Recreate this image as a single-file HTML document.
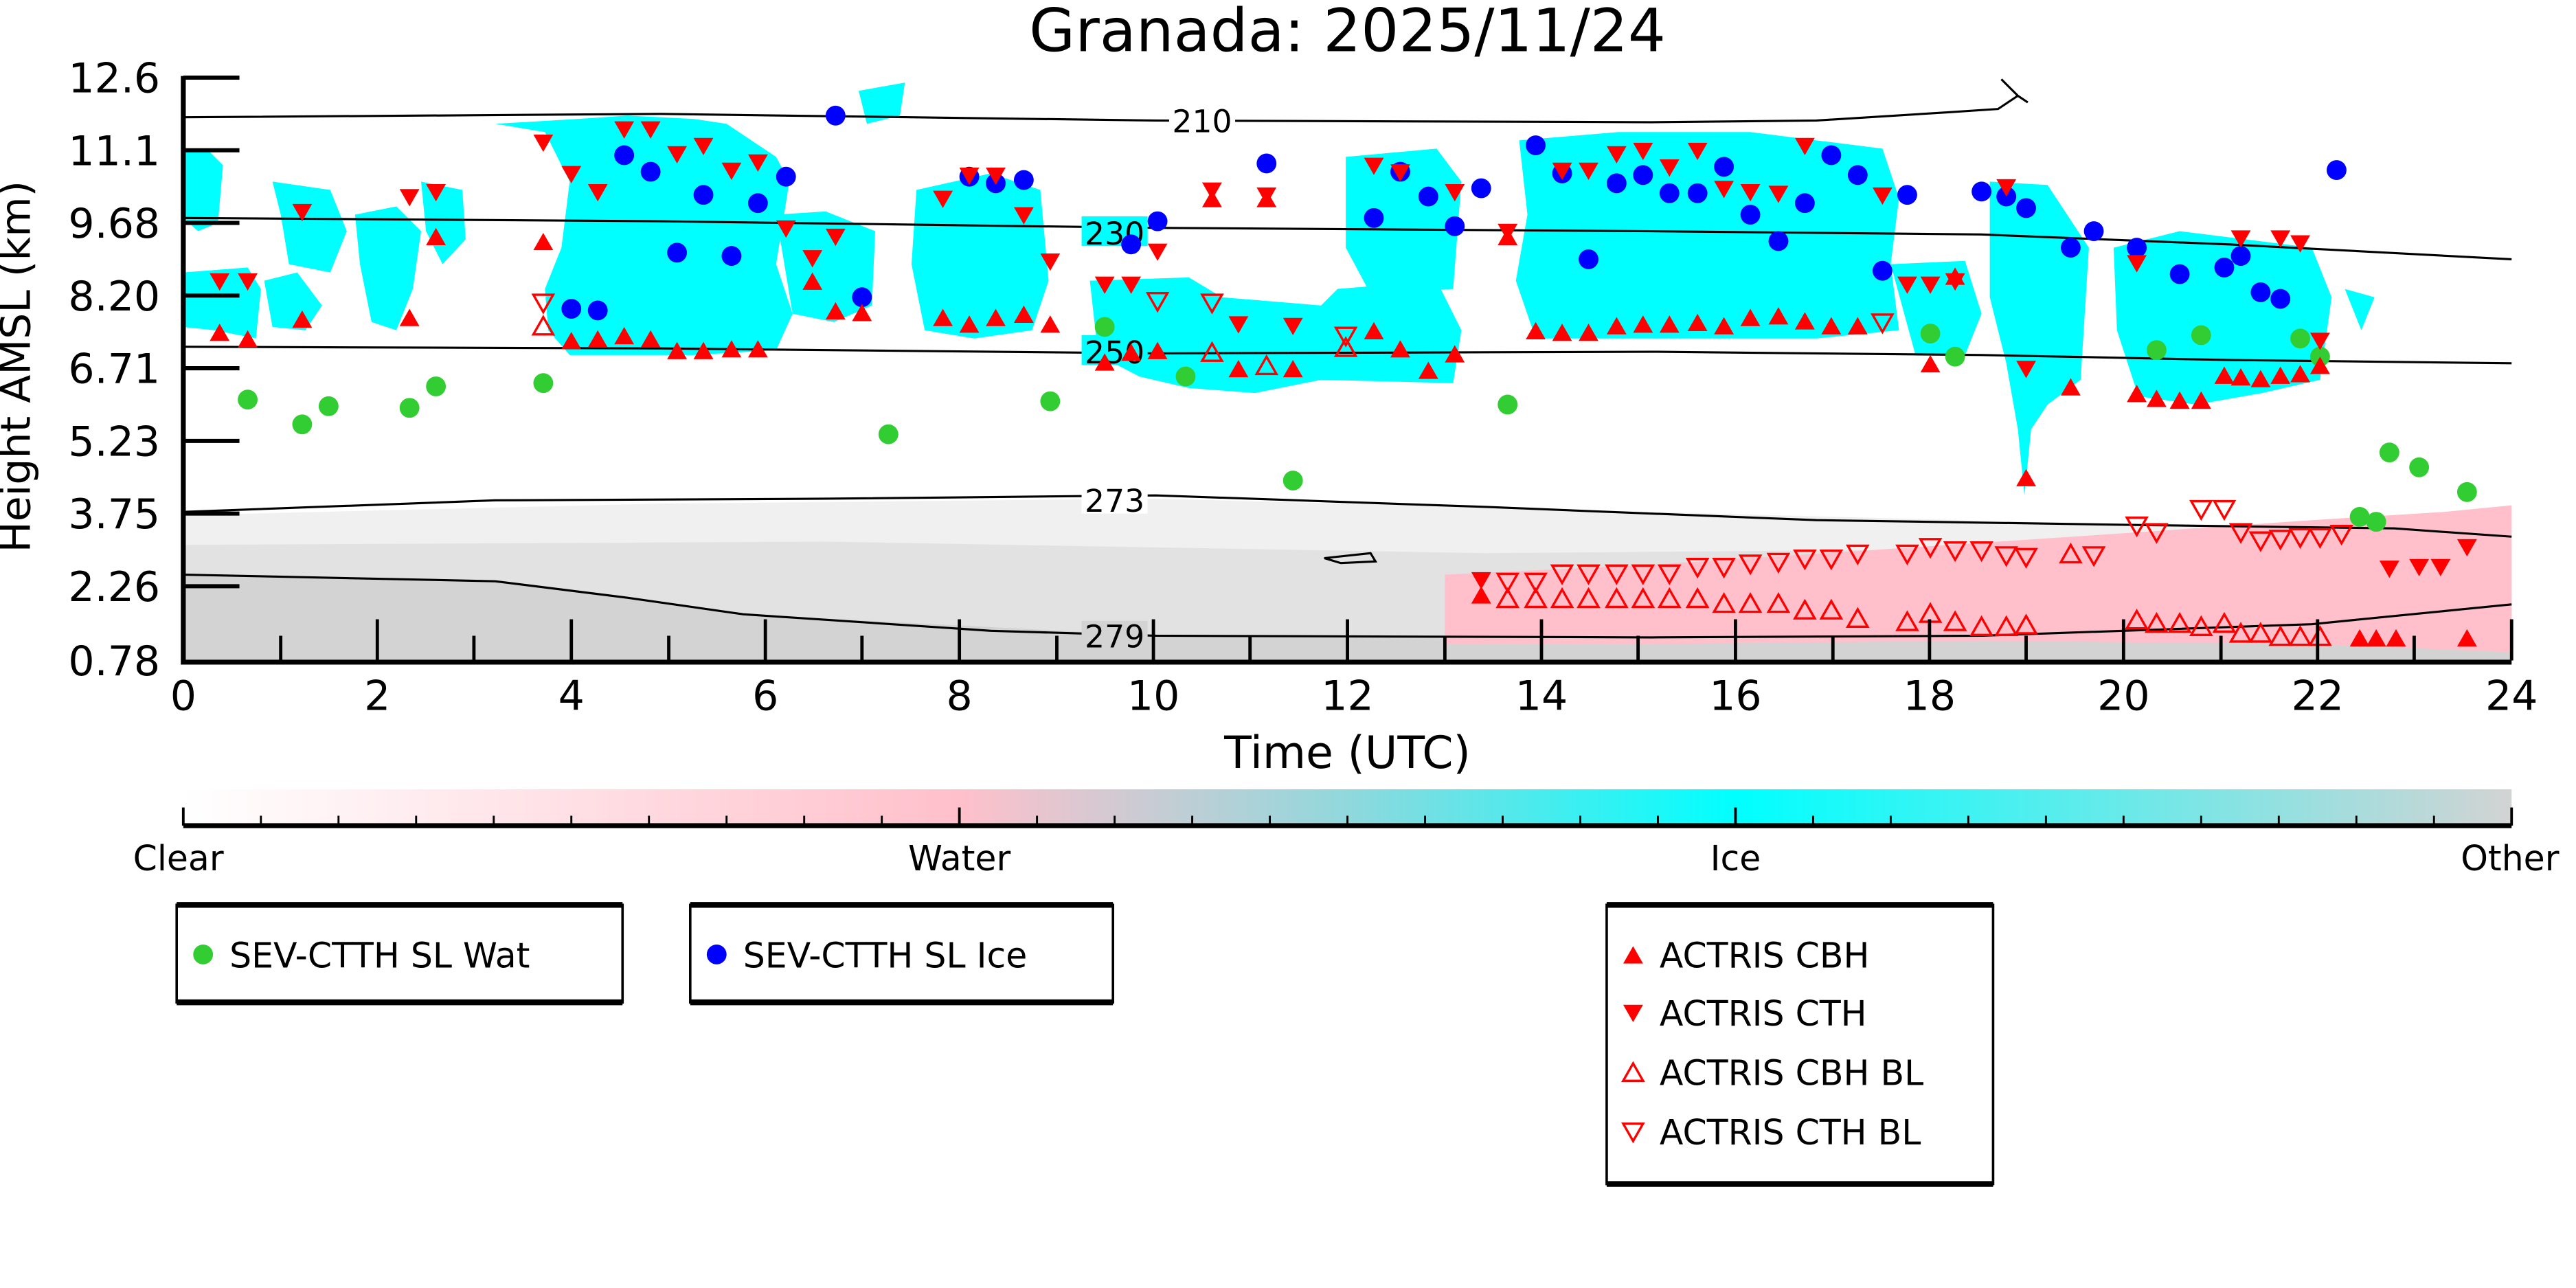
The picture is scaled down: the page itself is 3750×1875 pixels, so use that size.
<!DOCTYPE html>
<html><head><meta charset="utf-8"><style>
html,body{margin:0;padding:0;background:#fff;}
svg{display:block;}
text{font-family:"DejaVu Sans","Liberation Sans",sans-serif;}
</style></head><body>
<svg width="3750" height="1875" viewBox="0 0 1560 780" preserveAspectRatio="none" xmlns="http://www.w3.org/2000/svg">
<defs>
<linearGradient id="cb" x1="0" x2="1" y1="0" y2="0">
<stop offset="0" stop-color="#ffffff"/>
<stop offset="0.333" stop-color="#ffc0cb"/>
<stop offset="0.5" stop-color="#90d8dc"/>
<stop offset="0.667" stop-color="#00ffff"/>
<stop offset="1" stop-color="#d3d3d3"/>
</linearGradient>
<path id="up" d="M0,-6 L6,4.5 L-6,4.5 Z"/>
<path id="dn" d="M0,6 L6,-4.5 L-6,-4.5 Z"/>
</defs>
<text x="816" y="31" font-size="36" text-anchor="middle">Granada: 2025/11/24</text>

<path d="M111,312 L400,305 L700,302 L1000,310 L1300,318 L1521,322 L1521,400 L111,400 Z" fill="#f0f0f0"/>
<path d="M111,330 L500,328 L900,335 L1521,330 L1521,400 L111,400 Z" fill="#e2e2e2"/>
<path d="M111,348 L300,352 L450,372 L700,385 L1200,385 L1400,378 L1521,366 L1521,400 L111,400 Z" fill="#d3d3d3"/>
<path d="M111,348 L300,352 L450,372 L700,385 L111,385 Z" fill="#d3d3d3"/>
<path d="M875,348 L1000,342 L1150,332 L1300,322 L1400,315 L1480,310 L1521,306 L1521,395 L1400,390 L1200,388 L1000,390 L875,390 Z" fill="#ffc0cb"/>

<g fill="#00ffff">
<path d="M111,92 L125,90 L135,100 L132,135 L120,140 L111,132 Z"/>
<path d="M111,165 L150,162 L158,175 L155,205 L130,200 L111,198 Z"/>
<path d="M160,170 L180,165 L195,185 L185,200 L165,198 Z"/>
<path d="M165,110 L200,115 L210,140 L200,165 L175,160 L170,130 Z"/>
<path d="M215,130 L240,125 L255,140 L250,175 L240,200 L225,195 L218,160 Z"/>
<path d="M255,110 L280,115 L282,145 L268,160 L258,140 Z"/>
<path d="M300,75 L330,80 L345,110 L340,150 L330,175 L332,200 L345,215 L420,215 L470,212 L480,190 L470,160 L478,110 L470,95 L440,75 L420,72 L380,70 L350,72 Z"/>
<path d="M470,130 L500,128 L530,140 L528,185 L505,195 L480,190 Z"/>
<path d="M555,115 L600,105 L630,115 L635,170 L625,200 L590,205 L560,200 L552,160 Z"/>
<path d="M660,170 L720,168 L740,180 L800,185 L810,175 L870,170 L885,200 L880,232 L800,230 L760,238 L720,235 L690,228 L665,215 Z"/>
<path d="M815,95 L870,90 L885,110 L880,175 L830,178 L815,150 Z"/>
<path d="M920,85 L980,80 L1060,80 L1100,85 L1140,90 L1150,120 L1145,160 L1150,200 L1100,205 L1000,205 L930,205 L918,170 L925,130 Z"/>
<path d="M1145,160 L1190,158 L1200,190 L1190,215 L1160,215 Z"/>
<path d="M1205,110 L1240,112 L1265,150 L1260,230 L1240,245 L1230,260 L1226,300 L1222,260 L1215,220 L1205,180 Z"/>
<path d="M1280,150 L1320,140 L1360,145 L1400,150 L1412,180 L1405,230 L1370,238 L1330,245 L1295,240 L1282,200 Z"/>
<path d="M1420,175 L1438,180 L1430,200 Z"/>
<path d="M520,55 L548,50 L545,70 L525,75 Z"/>
</g>

<g fill="none" stroke="#000" stroke-width="1.3">
<path d="M111,71 L400,69 L700,73 L1000,74 L1100,73 L1180,68 L1210,66 L1222,58 L1212,48 M1222,58 L1228,62"/>
<path d="M111,132 L400,134 L700,138 L1000,140 L1200,142 L1350,148 L1521,157"/>
<path d="M111,210 L400,211 L700,214 L1000,213 L1200,215 L1350,218 L1521,220"/>
<path d="M111,310 L300,303 L500,302 L700,300 L900,307 L1100,315 L1300,318 L1450,320 L1521,325"/>
<path d="M111,348 L300,352 L380,362 L450,372 L600,382 L700,385 L1000,386 L1200,385 L1400,378 L1521,366"/>
<path d="M802,338 L830,335 L833,340 L812,341 Z"/>
</g>
<g font-size="19" text-anchor="middle">
<rect x="708" y="63" width="40" height="18" fill="#fff"/><text x="728" y="80">210</text>
<rect x="655" y="131" width="40" height="18" fill="#00ffff"/><text x="675" y="148">230</text>
<rect x="655" y="203" width="40" height="18" fill="#00ffff"/><text x="675" y="220">250</text>
<rect x="655" y="293" width="40" height="18" fill="#fff"/><text x="675" y="310">273</text>
<rect x="655" y="376" width="40" height="18" fill="#d3d3d3"/><text x="675" y="392">279</text>
</g>

<g fill="#32cd32">
<circle cx="150" cy="242" r="6"/><circle cx="183" cy="257" r="6"/><circle cx="199" cy="246" r="6"/><circle cx="248" cy="247" r="6"/><circle cx="264" cy="234" r="6"/><circle cx="329" cy="232" r="6"/><circle cx="538" cy="263" r="6"/><circle cx="636" cy="243" r="6"/><circle cx="669" cy="198" r="6"/><circle cx="718" cy="228" r="6"/><circle cx="783" cy="291" r="6"/><circle cx="913" cy="245" r="6"/><circle cx="1169" cy="202" r="6"/><circle cx="1184" cy="216" r="6"/><circle cx="1306" cy="212" r="6"/><circle cx="1333" cy="203" r="6"/><circle cx="1393" cy="205" r="6"/><circle cx="1405" cy="216" r="6"/><circle cx="1447" cy="274" r="6"/><circle cx="1429" cy="313" r="6"/><circle cx="1439" cy="316" r="6"/><circle cx="1465" cy="283" r="6"/><circle cx="1494" cy="298" r="6"/>
</g>
<g fill="#0000ff">
<circle cx="346" cy="187" r="6"/><circle cx="362" cy="188" r="6"/><circle cx="378" cy="94" r="6"/><circle cx="394" cy="104" r="6"/><circle cx="410" cy="153" r="6"/><circle cx="426" cy="118" r="6"/><circle cx="443" cy="155" r="6"/><circle cx="459" cy="123" r="6"/><circle cx="476" cy="107" r="6"/><circle cx="506" cy="70" r="6"/><circle cx="522" cy="180" r="6"/><circle cx="587" cy="107" r="6"/><circle cx="603" cy="111" r="6"/><circle cx="620" cy="109" r="6"/><circle cx="685" cy="148" r="6"/><circle cx="701" cy="134" r="6"/><circle cx="767" cy="99" r="6"/><circle cx="832" cy="132" r="6"/><circle cx="848" cy="104" r="6"/><circle cx="865" cy="119" r="6"/><circle cx="881" cy="137" r="6"/><circle cx="897" cy="114" r="6"/><circle cx="930" cy="88" r="6"/><circle cx="946" cy="105" r="6"/><circle cx="962" cy="157" r="6"/><circle cx="979" cy="111" r="6"/><circle cx="995" cy="106" r="6"/><circle cx="1011" cy="117" r="6"/><circle cx="1028" cy="117" r="6"/><circle cx="1044" cy="101" r="6"/><circle cx="1060" cy="130" r="6"/><circle cx="1077" cy="146" r="6"/><circle cx="1093" cy="123" r="6"/><circle cx="1109" cy="94" r="6"/><circle cx="1125" cy="106" r="6"/><circle cx="1140" cy="164" r="6"/><circle cx="1155" cy="118" r="6"/><circle cx="1200" cy="116" r="6"/><circle cx="1215" cy="119" r="6"/><circle cx="1227" cy="126" r="6"/><circle cx="1254" cy="150" r="6"/><circle cx="1268" cy="140" r="6"/><circle cx="1294" cy="150" r="6"/><circle cx="1320" cy="166" r="6"/><circle cx="1347" cy="162" r="6"/><circle cx="1357" cy="155" r="6"/><circle cx="1369" cy="177" r="6"/><circle cx="1381" cy="181" r="6"/><circle cx="1415" cy="103" r="6"/>
</g>
<g fill="#ff0000">
<use href="#up" x="133" y="202"/><use href="#up" x="150" y="206"/><use href="#up" x="183" y="194"/><use href="#up" x="248" y="193"/><use href="#up" x="264" y="144"/><use href="#up" x="329" y="147"/><use href="#up" x="346" y="207"/><use href="#up" x="362" y="206"/><use href="#up" x="378" y="204"/><use href="#up" x="394" y="206"/><use href="#up" x="410" y="213"/><use href="#up" x="426" y="213"/><use href="#up" x="443" y="212"/><use href="#up" x="459" y="212"/><use href="#up" x="492" y="171"/><use href="#up" x="506" y="189"/><use href="#up" x="522" y="190"/><use href="#up" x="571" y="193"/><use href="#up" x="587" y="197"/><use href="#up" x="603" y="193"/><use href="#up" x="620" y="191"/><use href="#up" x="636" y="197"/><use href="#up" x="669" y="220"/><use href="#up" x="685" y="214"/><use href="#up" x="701" y="213"/><use href="#up" x="734" y="121"/><use href="#up" x="750" y="224"/><use href="#up" x="767" y="121"/><use href="#up" x="783" y="224"/><use href="#up" x="832" y="201"/><use href="#up" x="848" y="212"/><use href="#up" x="865" y="225"/><use href="#up" x="881" y="215"/><use href="#up" x="913" y="144"/><use href="#up" x="930" y="201"/><use href="#up" x="946" y="202"/><use href="#up" x="962" y="202"/><use href="#up" x="979" y="198"/><use href="#up" x="995" y="197"/><use href="#up" x="1011" y="197"/><use href="#up" x="1028" y="196"/><use href="#up" x="1044" y="198"/><use href="#up" x="1060" y="193"/><use href="#up" x="1077" y="192"/><use href="#up" x="1093" y="195"/><use href="#up" x="1109" y="198"/><use href="#up" x="1125" y="198"/><use href="#up" x="1169" y="221"/><use href="#up" x="1184" y="168"/><use href="#up" x="1227" y="290"/><use href="#up" x="1254" y="235"/><use href="#up" x="1294" y="239"/><use href="#up" x="1306" y="242"/><use href="#up" x="1320" y="243"/><use href="#up" x="1333" y="243"/><use href="#up" x="1347" y="228"/><use href="#up" x="1357" y="229"/><use href="#up" x="1369" y="230"/><use href="#up" x="1381" y="228"/><use href="#up" x="1393" y="227"/><use href="#up" x="1405" y="222"/>
<use href="#up" x="897" y="361"/><use href="#up" x="1429" y="387"/><use href="#up" x="1439" y="387"/><use href="#up" x="1451" y="387"/><use href="#up" x="1494" y="387"/>
</g>
<g fill="#ff0000">
<use href="#dn" x="133" y="170"/><use href="#dn" x="150" y="170"/><use href="#dn" x="183" y="128"/><use href="#dn" x="248" y="119"/><use href="#dn" x="264" y="116"/><use href="#dn" x="329" y="86"/><use href="#dn" x="346" y="105"/><use href="#dn" x="362" y="116"/><use href="#dn" x="378" y="78"/><use href="#dn" x="394" y="78"/><use href="#dn" x="410" y="93"/><use href="#dn" x="426" y="88"/><use href="#dn" x="443" y="103"/><use href="#dn" x="459" y="98"/><use href="#dn" x="476" y="138"/><use href="#dn" x="492" y="156"/><use href="#dn" x="506" y="143"/><use href="#dn" x="571" y="120"/><use href="#dn" x="587" y="106"/><use href="#dn" x="603" y="106"/><use href="#dn" x="620" y="130"/><use href="#dn" x="636" y="158"/><use href="#dn" x="669" y="172"/><use href="#dn" x="685" y="172"/><use href="#dn" x="701" y="152"/><use href="#dn" x="734" y="115"/><use href="#dn" x="750" y="196"/><use href="#dn" x="767" y="118"/><use href="#dn" x="783" y="197"/><use href="#dn" x="832" y="100"/><use href="#dn" x="848" y="104"/><use href="#dn" x="881" y="116"/><use href="#dn" x="913" y="140"/><use href="#dn" x="946" y="103"/><use href="#dn" x="962" y="103"/><use href="#dn" x="979" y="93"/><use href="#dn" x="995" y="91"/><use href="#dn" x="1011" y="101"/><use href="#dn" x="1028" y="91"/><use href="#dn" x="1044" y="114"/><use href="#dn" x="1060" y="116"/><use href="#dn" x="1077" y="117"/><use href="#dn" x="1093" y="88"/><use href="#dn" x="1140" y="118"/><use href="#dn" x="1155" y="172"/><use href="#dn" x="1169" y="172"/><use href="#dn" x="1184" y="170"/><use href="#dn" x="1215" y="113"/><use href="#dn" x="1227" y="223"/><use href="#dn" x="1294" y="159"/><use href="#dn" x="1357" y="144"/><use href="#dn" x="1381" y="144"/><use href="#dn" x="1393" y="147"/><use href="#dn" x="1405" y="206"/>
<use href="#dn" x="897" y="351"/><use href="#dn" x="1447" y="344"/><use href="#dn" x="1465" y="343"/><use href="#dn" x="1478" y="343"/><use href="#dn" x="1494" y="331"/>
</g>
<g fill="none" stroke="#ff0000" stroke-width="1.4">
<use href="#dn" x="329" y="183"/><use href="#up" x="329" y="198"/><use href="#dn" x="701" y="182"/><use href="#dn" x="734" y="183"/><use href="#up" x="734" y="214"/><use href="#up" x="767" y="222"/><use href="#dn" x="815" y="203"/><use href="#up" x="815" y="211"/><use href="#dn" x="1140" y="195"/>
<use href="#dn" x="913" y="352"/><use href="#dn" x="930" y="352"/><use href="#dn" x="946" y="347"/><use href="#dn" x="962" y="347"/><use href="#dn" x="979" y="347"/><use href="#dn" x="995" y="347"/><use href="#dn" x="1011" y="347"/><use href="#dn" x="1028" y="343"/><use href="#dn" x="1044" y="343"/><use href="#dn" x="1060" y="341"/><use href="#dn" x="1077" y="340"/><use href="#dn" x="1093" y="338"/><use href="#dn" x="1109" y="338"/><use href="#dn" x="1125" y="335"/><use href="#dn" x="1155" y="335"/><use href="#dn" x="1169" y="331"/><use href="#dn" x="1184" y="333"/><use href="#dn" x="1200" y="333"/><use href="#dn" x="1215" y="336"/><use href="#dn" x="1227" y="337"/><use href="#dn" x="1268" y="336"/><use href="#dn" x="1294" y="318"/><use href="#dn" x="1306" y="322"/><use href="#dn" x="1333" y="308"/><use href="#dn" x="1347" y="308"/><use href="#dn" x="1357" y="322"/><use href="#dn" x="1369" y="327"/><use href="#dn" x="1381" y="326"/><use href="#dn" x="1393" y="325"/><use href="#dn" x="1405" y="325"/><use href="#dn" x="1418" y="323"/>
<use href="#up" x="913" y="363"/><use href="#up" x="930" y="363"/><use href="#up" x="946" y="363"/><use href="#up" x="962" y="363"/><use href="#up" x="979" y="363"/><use href="#up" x="995" y="363"/><use href="#up" x="1011" y="363"/><use href="#up" x="1028" y="363"/><use href="#up" x="1044" y="366"/><use href="#up" x="1060" y="366"/><use href="#up" x="1077" y="366"/><use href="#up" x="1093" y="370"/><use href="#up" x="1109" y="370"/><use href="#up" x="1125" y="375"/><use href="#up" x="1155" y="377"/><use href="#up" x="1169" y="372"/><use href="#up" x="1184" y="377"/><use href="#up" x="1200" y="380"/><use href="#up" x="1215" y="380"/><use href="#up" x="1227" y="379"/><use href="#up" x="1254" y="336"/><use href="#up" x="1294" y="376"/><use href="#up" x="1306" y="378"/><use href="#up" x="1320" y="378"/><use href="#up" x="1333" y="380"/><use href="#up" x="1347" y="378"/><use href="#up" x="1357" y="384"/><use href="#up" x="1369" y="384"/><use href="#up" x="1381" y="386"/><use href="#up" x="1393" y="386"/><use href="#up" x="1405" y="386"/>
</g>

<g stroke="#000" fill="none">
<path d="M111,46 L111,401 L1521,401" stroke-width="3"/>
<path d="M111,47H145 M111,91H145 M111,135H145 M111,179H145 M111,223H145 M111,267H145 M111,311H145 M111,355H145" stroke-width="2.5"/>
<path d="M228.5,400V375 M346,400V375 M463.5,400V375 M581,400V375 M698.5,400V375 M816,400V375 M933.5,400V375 M1051,400V375 M1168.5,400V375 M1286,400V375 M1403.5,400V375 M1521,400V375" stroke-width="2"/>
<path d="M170,400V385 M287,400V385 M405,400V385 M522,400V385 M640,400V385 M757,400V385 M875,400V385 M992,400V385 M1110,400V385 M1227,400V385 M1345,400V385 M1462,400V385" stroke-width="2"/>
</g>
<g font-size="25" text-anchor="end">
<text x="97" y="56">12.6</text><text x="97" y="100">11.1</text><text x="97" y="144">9.68</text><text x="97" y="188">8.20</text><text x="97" y="232">6.71</text><text x="97" y="276">5.23</text><text x="97" y="320">3.75</text><text x="97" y="364">2.26</text><text x="97" y="409">0.78</text>
</g>
<text transform="translate(18,222) rotate(-90)" font-size="25" text-anchor="middle">Height AMSL (km)</text>
<g font-size="25" text-anchor="middle">
<text x="111" y="430">0</text><text x="228.5" y="430">2</text><text x="346" y="430">4</text><text x="463.5" y="430">6</text><text x="581" y="430">8</text><text x="698.5" y="430">10</text><text x="816" y="430">12</text><text x="933.5" y="430">14</text><text x="1051" y="430">16</text><text x="1168.5" y="430">18</text><text x="1286" y="430">20</text><text x="1403.5" y="430">22</text><text x="1521" y="430">24</text>
<text x="816" y="465" font-size="27">Time (UTC)</text>
</g>

<rect x="111" y="478" width="1410" height="21" fill="url(#cb)"/>
<path d="M111,500H1521" stroke="#000" stroke-width="3"/>
<g stroke="#000" stroke-width="1.2">
<path d="M111,500V489 M581,500V489 M1051,500V489 M1521,500V489" stroke-width="1.6"/>
<path d="M158,500V494 M205,500V494 M252,500V494 M299,500V494 M346,500V494 M393,500V494 M440,500V494 M487,500V494 M534,500V494 M628,500V494 M675,500V494 M722,500V494 M769,500V494 M816,500V494 M863,500V494 M910,500V494 M957,500V494 M1004,500V494 M1098,500V494 M1145,500V494 M1192,500V494 M1239,500V494 M1286,500V494 M1333,500V494 M1380,500V494 M1427,500V494 M1474,500V494"/>
</g>
<g font-size="21" text-anchor="middle">
<text x="108" y="527">Clear</text><text x="581" y="527">Water</text><text x="1051" y="527">Ice</text><text x="1520" y="527">Other</text>
</g>

<g fill="#fff" stroke="#000" stroke-width="1.5">
<rect x="107" y="548" width="270" height="59"/>
<rect x="418" y="548" width="256" height="59"/>
<rect x="973" y="548" width="234" height="169"/>
</g>
<g stroke="#000" stroke-width="3.5">
<path d="M107,548H377 M107,607H377 M418,548H674 M418,607H674 M973,548H1207 M973,717H1207"/>
</g>
<g font-size="21">
<circle cx="123" cy="578" r="6" fill="#32cd32"/><text x="139" y="586">SEV-CTTH SL Wat</text>
<circle cx="434" cy="578" r="6" fill="#0000ff"/><text x="450" y="586">SEV-CTTH SL Ice</text>
<use href="#up" x="989" y="579" fill="#ff0000"/><text x="1005" y="586">ACTRIS CBH</text>
<use href="#dn" x="989" y="613" fill="#ff0000"/><text x="1005" y="621">ACTRIS CTH</text>
<use href="#up" x="989" y="650" fill="none" stroke="#ff0000" stroke-width="1.4"/><text x="1005" y="657">ACTRIS CBH BL</text>
<use href="#dn" x="989" y="685" fill="none" stroke="#ff0000" stroke-width="1.4"/><text x="1005" y="693">ACTRIS CTH BL</text>
</g>
</svg>
</body></html>
